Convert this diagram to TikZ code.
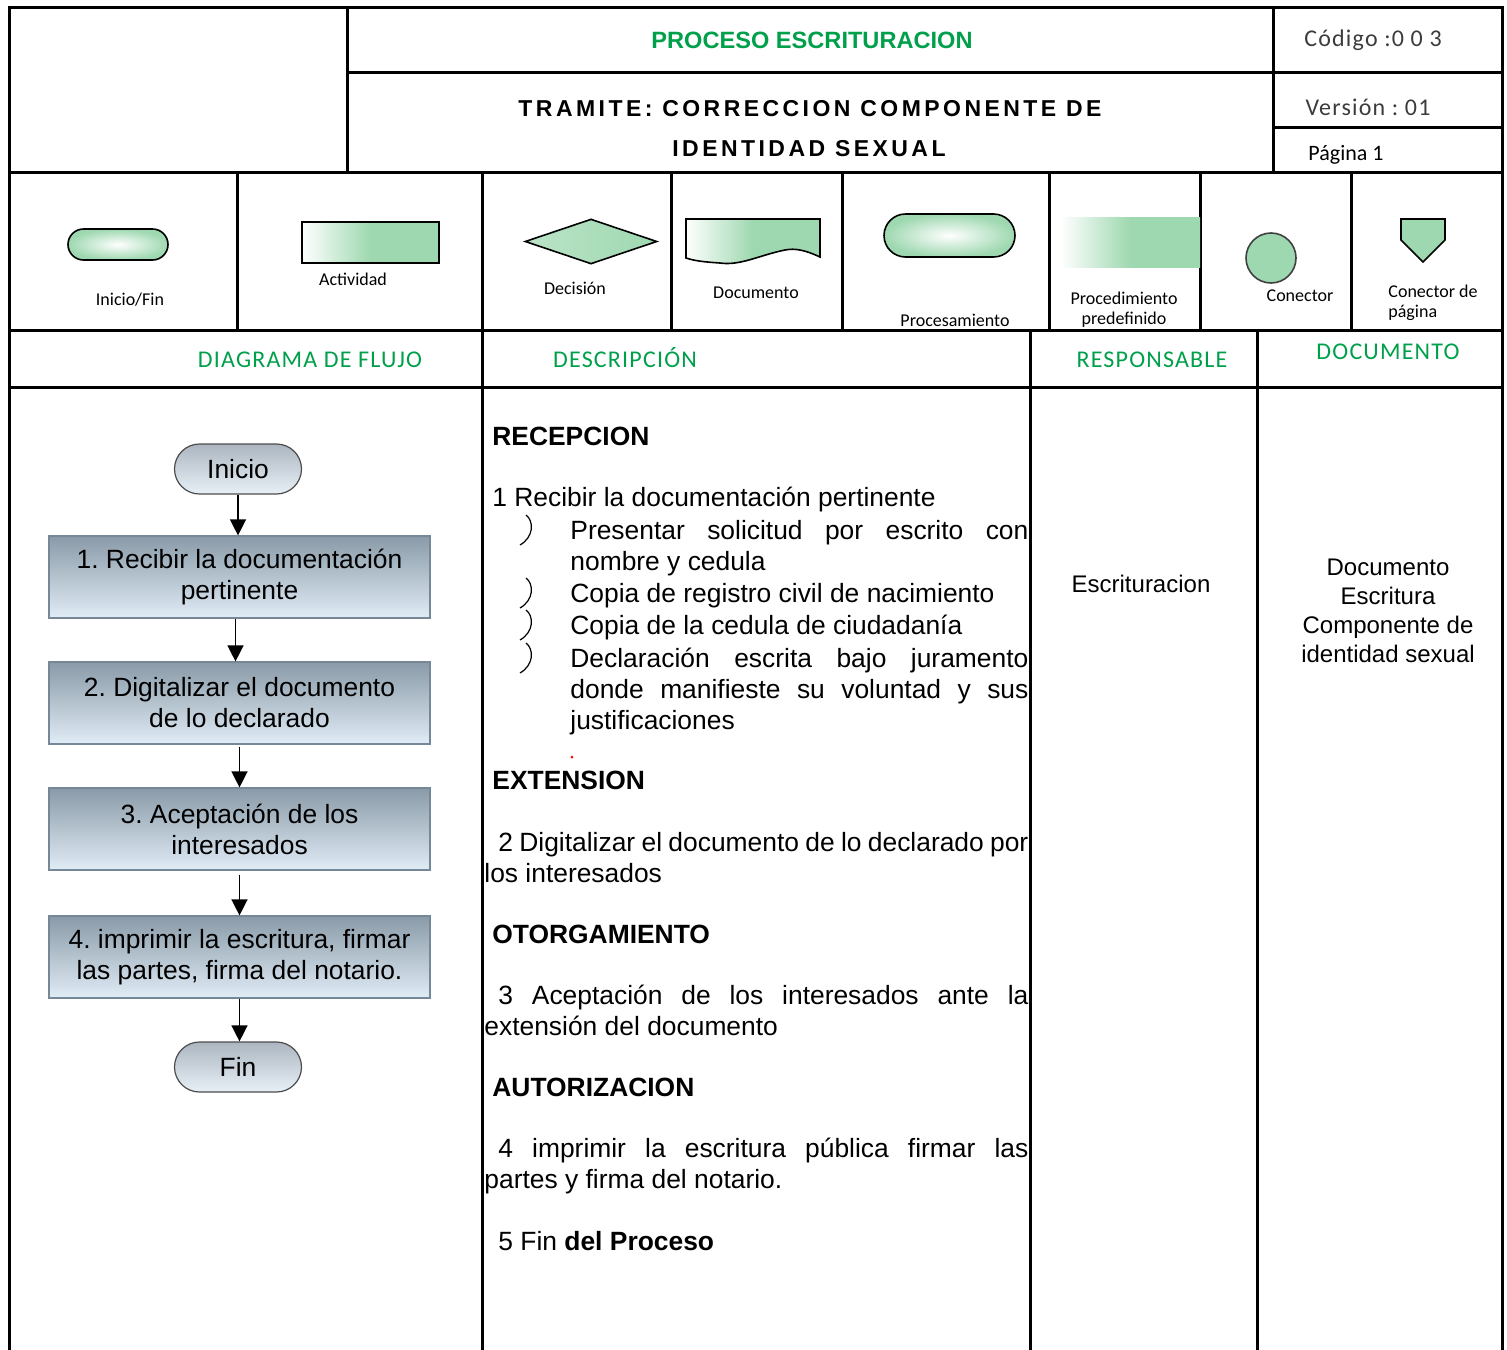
\documentclass[tikz,border=0pt]{standalone}
\usepackage{fontspec}
\setmainfont{Liberation Sans}
\newfontfamily\legfont{Carlito}
\newfontfamily\hdrfont[LetterSpace=5]{Carlito}
\newfontfamily\tramfont[LetterSpace=15]{Liberation Sans}
\usetikzlibrary{arrows.meta,shapes.geometric,calc}
\definecolor{hgreen}{RGB}{0,160,75}
\definecolor{lgreen}{RGB}{158,216,176}
\definecolor{boxtop}{RGB}{138,154,168}
\definecolor{boxbot}{RGB}{224,236,246}
\definecolor{boxedge}{RGB}{118,136,152}
\definecolor{termtop}{RGB}{172,182,192}
\definecolor{termbot}{RGB}{232,240,247}
\definecolor{codegray}{RGB}{60,60,60}
\tikzset{
  tbl/.style={line width=1.5pt, line cap=rect},
  actbox/.style={draw=boxedge, line width=0.6pt, top color=boxtop, bottom color=boxbot,
    minimum width=190.5pt, minimum height=41pt, align=center, inner sep=0pt,
    font=\fontsize{13.2}{15.5}\selectfont},
  termbox/.style={draw=black!70, line width=0.6pt, rounded corners=12.5pt,
    top color=termtop, bottom color=termbot, minimum width=63.5pt, minimum height=25pt,
    inner sep=0pt, font=\fontsize{13.2}{15}\selectfont},
  flowarrow/.style={-{Triangle[length=8pt,width=8pt]}, line width=0.7pt},
  bodytext/.style={anchor=base west, inner sep=0pt, font=\fontsize{13.2}{15}\selectfont},
  headtext/.style={anchor=base west, inner sep=0pt, font=\fontsize{13.2}{15}\selectfont\bfseries},
  greenhdr/.style={text=hgreen, inner sep=0pt, font={\hdrfont\fontsize{12}{13}\selectfont}},
  legtext/.style={inner sep=0pt, align=center, font={\legfont\fontsize{9}{10}\selectfont}},
  legshape/.style={draw=black, line width=0.8pt},
  bulletmark/.style={line width=0.6pt},
}
\begin{document}
\frenchspacing
\begin{tikzpicture}[x=0.5pt,y=-0.5pt]
\useasboundingbox (0,0) rectangle (1507,1349);
% ---------------- table grid ----------------
\draw[tbl] (9,1349) -- (9,7) -- (1502,7) -- (1502,1349);
\draw[tbl] (347,7) -- (347,172);
\draw[tbl] (1273,7) -- (1273,172);
\draw[tbl] (347,72) -- (1502,72);
\draw[tbl] (1273,127) -- (1502,127);
\draw[tbl] (9,172) -- (1502,172);
\draw[tbl] (9,330) -- (1502,330);
\draw[tbl] (9,387) -- (1502,387);
\foreach \xx in {237,671,842,1049,1200,1351} \draw[tbl] (\xx,172) -- (\xx,330);
\draw[tbl] (482,172) -- (482,1349);
\draw[tbl] (1030,330) -- (1030,1349);
\draw[tbl] (1257,330) -- (1257,1349);
% ---------------- header ----------------
\node[text=hgreen, font=\fontsize{11.8}{13}\selectfont\bfseries, inner sep=0pt] (proc) at (812,40) {PROCESO ESCRITURACION};
\node[text=codegray, inner sep=0pt, font={\hdrfont\fontsize{12}{13}\selectfont}] (cod) at (1373,40) {Código :0 0 3};
\node[inner sep=0pt, font={\tramfont\fontsize{11.5}{13}\selectfont\bfseries}] (tram1) at (810,109) {TRAMITE: CORRECCION COMPONENTE DE};
\node[inner sep=0pt, font={\tramfont\fontsize{11.5}{13}\selectfont\bfseries}] (tram2) at (809,149) {IDENTIDAD SEXUAL};
\node[text=codegray, inner sep=0pt, font={\hdrfont\fontsize{12}{13}\selectfont}] (ver) at (1368,107) {Versión : 01};
\node[inner sep=0pt, font={\legfont\fontsize{11}{12}\selectfont}] (pag) at (1346,155) {Página 1};
% ---------------- legend ----------------
\node[legshape, rounded corners=7.75pt, minimum width=50pt, minimum height=15.5pt, inner sep=0pt,
  inner color=white, outer color=lgreen] (lterm) at (118,244.5) {};
\node[legtext] (lterml) at (130,300) {Inicio/Fin};
\node[legshape, minimum width=68.5pt, minimum height=20.5pt, inner sep=0pt,
  left color=white, right color=lgreen, middle color=lgreen] (lact) at (370.5,242.5) {};
\node[legtext] (lactl) at (353,279) {Actividad};
\node[legshape, diamond, aspect=2.9, minimum width=66pt, minimum height=22.5pt, inner sep=0pt,
  left color=lgreen!70!white, right color=lgreen] (ldec) at (591,241.5) {};
\node[legtext] (ldecl) at (575,288) {Decisión};
\draw[legshape, left color=white, right color=lgreen, middle color=lgreen]
  (686,219) -- (820,219) -- (820,257)
  .. controls (805,250) and (795,248) .. (785,250)
  .. controls (760,255) and (740,266) .. (720,263)
  .. controls (705,262) and (695,261) .. (686,258) -- cycle;
\node[legtext] (ldocl) at (756,293) {Documento};
\node[legshape, rounded corners=10.75pt, minimum width=65.5pt, minimum height=21.5pt, inner sep=0pt,
  inner color=white, outer color=lgreen] (lproc) at (949.5,235.5) {};
\node[legtext] (lprocl) at (955,320) {Procesamiento};
\shade[left color=white, right color=lgreen, middle color=lgreen] (1061,217) rectangle (1200,267);
\node[legtext] (lpredl) at (1124,310) {Procedimiento\\predefinido};
\node[draw=black!75, line width=0.8pt, circle, minimum size=25pt, inner sep=0pt, fill=lgreen] (lcon) at (1271,258) {};
\node[legtext] (lconl) at (1300,296) {Conector};
\draw[legshape, fill=lgreen] (1401,219) -- (1445,219) -- (1445,240) -- (1423,262) -- (1401,240) -- cycle;
\node[legtext, align=left, anchor=west] (lpagl) at (1388,303) {Conector de\\página};
% ---------------- column headers ----------------
\node[greenhdr] (h1) at (310,360) {DIAGRAMA DE FLUJO};
\node[greenhdr] (h2) at (625,358) {DESCRIPCIÓN};
\node[greenhdr] (h3) at (1152,360) {RESPONSABLE};
\node[greenhdr] (h4) at (1388,352) {DOCUMENTO};
% ---------------- flowchart ----------------
\node[termbox] (ini) at (238,469) {Inicio};
\node[actbox] (s1) at (239.5,577) {1. Recibir la documentación\\pertinente};
\node[actbox] (s2) at (239.5,703) {2. Digitalizar el documento\\de lo declarado};
\node[actbox] (s3) at (239.5,829) {3. Aceptación de los\\interesados};
\node[actbox] (s4) at (239.5,957) {4. imprimir la escritura, firmar\\las partes, firma del notario.};
\node[termbox] (fin) at (238,1067) {Fin};
\draw[flowarrow] (ini.south) -- (ini.south |- s1.north);
\draw[flowarrow] ([xshift=-2pt]s1.south) -- ([xshift=-2pt]s1.south |- s2.north);
\draw[flowarrow] ([yshift=-1pt]s2.south) -- (s3.north);
\draw[flowarrow] ([yshift=-2pt]s3.south) -- (s4.north);
\draw[flowarrow] (s4.south) -- (s4.south |- fin.north);
% ---------------- description ----------------
\node[headtext] (d0) at (492,445) {RECEPCION};
\node[bodytext] (d1) at (492,506) {1 Recibir la documentación pertinente};
\foreach \yy in {515,578,610,643}
  \draw[bulletmark] (526,\yy) .. controls (534,\yy+6) and (534,\yy+22) .. (520,\yy+30);
\node[bodytext] (b1a) at (570,539) {\makebox[229pt][s]{Presentar solicitud por escrito con}};
\node[bodytext] (b1b) at (570,570) {nombre y cedula};
\node[bodytext] (b2) at (570,602) {Copia de registro civil de nacimiento};
\node[bodytext] (b3) at (570,634) {Copia de la cedula de ciudadanía};
\node[bodytext] (b4a) at (570,667) {\makebox[229pt][s]{Declaración escrita bajo juramento}};
\node[bodytext] (b4b) at (570,698) {\makebox[229pt][s]{donde manifieste su voluntad y sus}};
\node[bodytext] (b4c) at (570,729) {justificaciones};
\fill[red] (572,757) circle (1.5);
\node[headtext] (d2) at (492,789) {EXTENSION};
\node[bodytext] (d2a) at (498,851) {\makebox[265pt][s]{2 Digitalizar el documento de lo declarado por}};
\node[bodytext] (d2b) at (484,882) {los interesados};
\node[headtext] (d3) at (492,943) {OTORGAMIENTO};
\node[bodytext] (d3a) at (498,1004) {\makebox[265pt][s]{3 Aceptación de los interesados ante la}};
\node[bodytext] (d3b) at (484,1035) {extensión del documento};
\node[headtext] (d4) at (492,1096) {AUTORIZACION};
\node[bodytext] (d4a) at (498,1157) {\makebox[265pt][s]{4 imprimir la escritura pública firmar las}};
\node[bodytext] (d4b) at (484,1188) {partes y firma del notario.};
\node[bodytext] (d5) at (498,1250) {5 Fin \textbf{del Proceso}};
% ---------------- responsible / document ----------------
\node[inner sep=0pt, font=\fontsize{12}{14}\selectfont] (resp) at (1141,584) {Escrituracion};
\node[inner sep=0pt, align=center, font=\fontsize{12}{14.5}\selectfont] (doc) at (1388,611)
  {Documento\\Escritura\\Componente de\\identidad sexual};
\end{tikzpicture}
\end{document}
